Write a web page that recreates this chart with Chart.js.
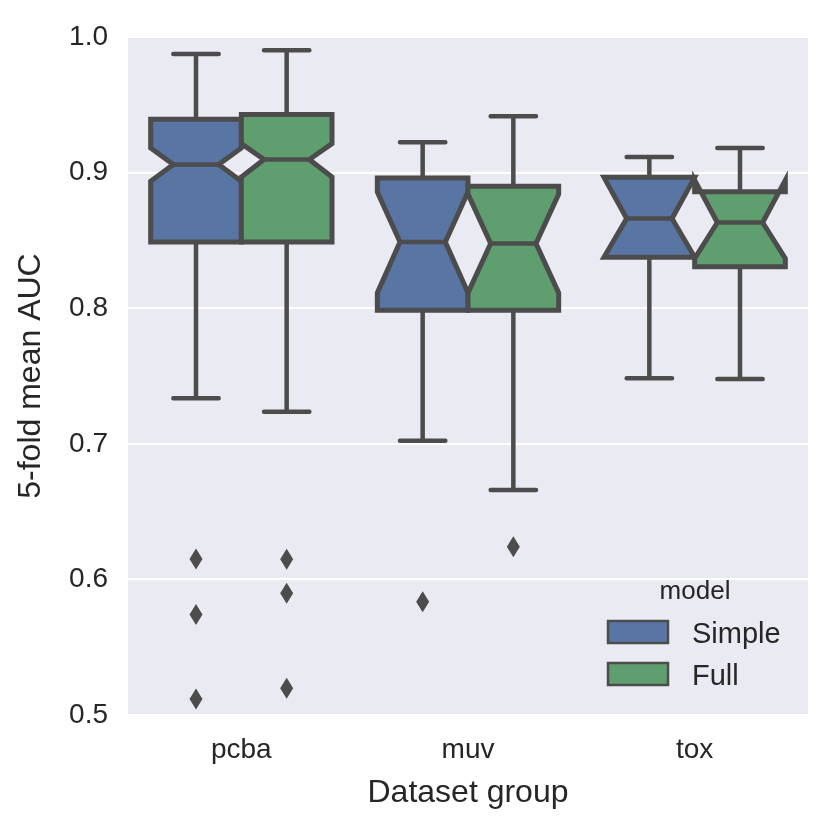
<!DOCTYPE html>
<html>
<head>
<meta charset="utf-8">
<script src="https://cdn.jsdelivr.net/npm/chart.js@4.4.1/dist/chart.umd.min.js"></script>
<style>
  html, body { margin: 0; padding: 0; background: #fff; }
</style>
</head>
<body>
<canvas id="aucChart" width="832" height="833"></canvas>
<script>
const groups = ["pcba", "muv", "tox"];
const models = ["Simple", "Full"];
const yTicks = [0.5, 0.6, 0.7, 0.8, 0.9, 1.0];

// Simple model, one value per group
const simpleLow = [0.7335, 0.7022, 0.7484];
const simpleQ1 = [0.8489, 0.7985, 0.8375];
const simpleCiLo = [0.8936, 0.8113, 0.8375];
const simpleMed = [0.9059, 0.8489, 0.8661];
const simpleCiHi = [0.9182, 0.8857, 0.8965];
const simpleQ3 = [0.9393, 0.8961, 0.8965];
const simpleHigh = [0.9875, 0.9224, 0.9115];
const simpleOutliers = [[0.6150, 0.5742, 0.5118], [0.5835], []];

// Full model
const fullLow = [0.7236, 0.6659, 0.7477];
const fullQ1 = [0.8489, 0.7985, 0.8305];
const fullCiLo = [0.8968, 0.8113, 0.8367];
const fullMed = [0.9096, 0.8477, 0.8632];
const fullCiHi = [0.9214, 0.8841, 0.8944];
const fullQ3 = [0.9428, 0.8899, 0.8859];
const fullHigh = [0.9902, 0.9415, 0.9182];
const fullOutliers = [[0.6148, 0.5897, 0.5197], [0.6241], []];

const fillColors = ["#5975a4", "#5f9e6e"];
const lineColor = "#4c4c4c";
const font = "'Liberation Sans', Arial, sans-serif";

const stats = [
  { low: simpleLow, q1: simpleQ1, cilo: simpleCiLo, med: simpleMed, cihi: simpleCiHi, q3: simpleQ3, high: simpleHigh, out: simpleOutliers },
  { low: fullLow, q1: fullQ1, cilo: fullCiLo, med: fullMed, cihi: fullCiHi, q3: fullQ3, high: fullHigh, out: fullOutliers },
];

const boxPlugin = {
  id: "notchedBoxes",
  beforeDraw(chart) {
    const a = chart.chartArea;
    const ctx = chart.ctx;
    ctx.save();
    ctx.fillStyle = "#eaeaf2";
    ctx.fillRect(a.left, a.top, a.right - a.left, a.bottom - a.top);
    ctx.restore();
  },
  afterDatasetsDraw(chart) {
    const ctx = chart.ctx;
    const xs = chart.scales.x;
    const ys = chart.scales.y;
    const band = xs.getPixelForValue(1) - xs.getPixelForValue(0);
    const w = band * 0.8 / models.length;
    ctx.save();
    groups.forEach((g, i) => {
      models.forEach((m, j) => {
        const s = stats[j];
        const cx = xs.getPixelForValue(i) - band * 0.4 + w * (j + 0.5);
        const L = cx - w / 2, R = cx + w / 2;
        const cl = cx - w / 4, cr = cx + w / 4;
        const py = v => ys.getPixelForValue(v);

        ctx.lineWidth = 4.5;
        ctx.strokeStyle = lineColor;
        ctx.lineCap = "round";
        // whiskers and caps
        ctx.beginPath();
        ctx.moveTo(cx, py(s.q3[i])); ctx.lineTo(cx, py(s.high[i]));
        ctx.moveTo(cx, py(s.q1[i])); ctx.lineTo(cx, py(s.low[i]));
        ctx.moveTo(cl, py(s.high[i])); ctx.lineTo(cr, py(s.high[i]));
        ctx.moveTo(cl, py(s.low[i])); ctx.lineTo(cr, py(s.low[i]));
        ctx.stroke();

        // notched box, same path order as matplotlib
        ctx.lineCap = "butt";
        ctx.lineJoin = "miter";
        ctx.beginPath();
        ctx.moveTo(L, py(s.q1[i]));
        ctx.lineTo(R, py(s.q1[i]));
        ctx.lineTo(R, py(s.cilo[i]));
        ctx.lineTo(cr, py(s.med[i]));
        ctx.lineTo(R, py(s.cihi[i]));
        ctx.lineTo(R, py(s.q3[i]));
        ctx.lineTo(L, py(s.q3[i]));
        ctx.lineTo(L, py(s.cihi[i]));
        ctx.lineTo(cl, py(s.med[i]));
        ctx.lineTo(L, py(s.cilo[i]));
        ctx.closePath();
        ctx.fillStyle = fillColors[j];
        ctx.fill();
        ctx.lineWidth = 5;
        ctx.stroke();

        // median
        ctx.lineWidth = 4.5;
        ctx.beginPath();
        ctx.moveTo(cl, py(s.med[i])); ctx.lineTo(cr, py(s.med[i]));
        ctx.stroke();

        // outliers as thin diamonds
        ctx.fillStyle = lineColor;
        s.out[i].forEach(v => {
          const oy = py(v);
          ctx.beginPath();
          ctx.moveTo(cx, oy - 10.5);
          ctx.lineTo(cx + 6.5, oy);
          ctx.lineTo(cx, oy + 10.5);
          ctx.lineTo(cx - 6.5, oy);
          ctx.closePath();
          ctx.fill();
        });
      });
    });
    ctx.restore();
  },
  afterDraw(chart) {
    // legend inside the plot, lower right
    const ctx = chart.ctx;
    ctx.save();
    ctx.fillStyle = "#262626";
    ctx.textBaseline = "alphabetic";
    ctx.textAlign = "center";
    ctx.font = "26px " + font;
    ctx.fillText("model", 695, 599);
    ctx.textAlign = "left";
    ctx.font = "29px " + font;
    models.forEach((m, j) => {
      const top = 621 + j * 42;
      ctx.fillStyle = fillColors[j];
      ctx.fillRect(608, top, 60, 22);
      ctx.strokeStyle = lineColor;
      ctx.lineWidth = 2.5;
      ctx.strokeRect(608, top, 60, 22);
      ctx.fillStyle = "#262626";
      ctx.fillText(m, 692, top + 21.5);
    });
    ctx.restore();
  }
};

const ctx = document.getElementById("aucChart").getContext("2d");
new Chart(ctx, {
  type: "bar",
  data: {
    labels: groups,
    datasets: models.map((m, j) => ({
      label: m,
      data: groups.map((g, i) => [stats[j].q1[i], stats[j].q3[i]]),
      backgroundColor: "rgba(0,0,0,0)",
      borderWidth: 0,
    })),
  },
  options: {
    responsive: false,
    animation: false,
    devicePixelRatio: 1,
    layout: { padding: { top: 37, right: 24, bottom: 0, left: 0 } },
    plugins: { legend: { display: false }, tooltip: { enabled: false } },
    scales: {
      x: {
        grid: { display: false, drawTicks: false },
        border: { display: false },
        ticks: { color: "#262626", font: { family: font, size: 28 }, padding: 18 },
        title: {
          display: true,
          text: "Dataset group",
          color: "#262626",
          font: { family: font, size: 32 },
          padding: { top: 0, bottom: 21 },
        },
        afterFit: scale => { scale.height = 118; },
      },
      y: {
        min: 0.5,
        max: 1.0,
        afterBuildTicks: scale => { scale.ticks = yTicks.map(v => ({ value: v })); },
        grid: { color: "#ffffff", lineWidth: 2, drawTicks: false },
        border: { display: false },
        ticks: {
          color: "#262626",
          font: { family: font, size: 28 },
          padding: 20,
          callback: v => v.toFixed(1),
        },
        title: {
          display: true,
          text: "5-fold mean AUC",
          color: "#262626",
          font: { family: font, size: 32 },
          padding: { top: 12, bottom: 0 },
        },
        afterFit: scale => { scale.width = 128; },
      },
    },
  },
  plugins: [boxPlugin],
});
</script>
</body>
</html>
